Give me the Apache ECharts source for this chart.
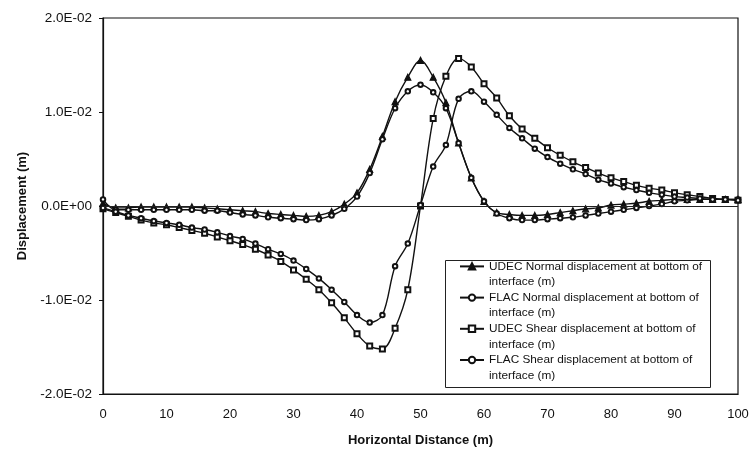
<!DOCTYPE html>
<html>
<head>
<meta charset="utf-8">
<script src="https://cdn.jsdelivr.net/npm/echarts@6/dist/echarts.min.js"></script>
<style>
html,body{margin:0;padding:0;background:#fff;}
#c{width:754px;height:452px;}
</style>
</head>
<body>
<div id="c"></div>
<script>
// Horizontal distance (m)
var distance = [0,2,4,6,8,10,12,14,16,18,20,22,24,26,28,30,32,34,36,38,40,42,44,46,48,50,
  52,54,56,58,60,62,64,66,68,70,72,74,76,78,80,82,84,86,88,90,92,94,96,98,100];

// Displacement (m)
var udecNormal = [0.0003,-0.0002,-0.0002,-0.0001,-0.0001,-0.0001,-0.0001,-0.0001,-0.0002,-0.0003,
  -0.0004,-0.0005,-0.0006,-0.0008,-0.0009,-0.0010,-0.0011,-0.0010,-0.0006,0.0002,
  0.0014,0.0039,0.0074,0.0111,0.0137,0.0155,0.0137,0.0110,0.0067,0.0030,
  0.0005,-0.0007,-0.0009,-0.0010,-0.0010,-0.0009,-0.0007,-0.0005,-0.0003,-0.0002,
  0.0001,0.0002,0.0003,0.0005,0.0006,0.0007,0.0007,0.0007,0.0007,0.0007,0.0007];

var flacNormal = [0.0007,-0.0004,-0.0004,-0.0004,-0.0004,-0.0004,-0.0004,-0.0004,-0.0005,-0.0005,
  -0.0007,-0.0009,-0.0010,-0.0012,-0.0013,-0.0014,-0.0015,-0.0014,-0.0010,-0.0003,
  0.0010,0.0035,0.0071,0.0104,0.0122,0.0129,0.0121,0.0104,0.0067,0.0030,
  0.0005,-0.0008,-0.0013,-0.0015,-0.0015,-0.0014,-0.0013,-0.0012,-0.0010,-0.0008,
  -0.0006,-0.0004,-0.0002,0.0000,0.0002,0.0005,0.0006,0.0007,0.0007,0.0007,0.0007];

var udecShear = [-0.0003,-0.0007,-0.0011,-0.0015,-0.0018,-0.0020,-0.0023,-0.0026,-0.0029,-0.0033,
  -0.0037,-0.0041,-0.0046,-0.0052,-0.0059,-0.0068,-0.0078,-0.0089,-0.0103,-0.0119,
  -0.0136,-0.0149,-0.0152,-0.0130,-0.0089,0.0000,0.0093,0.0138,0.0157,0.0148,
  0.0130,0.0115,0.0096,0.0082,0.0072,0.0062,0.0054,0.0047,0.0041,0.0035,
  0.0030,0.0026,0.0022,0.0019,0.0017,0.0014,0.0012,0.0010,0.0008,0.0007,0.0006];

var flacShear = [-0.0002,-0.0006,-0.0010,-0.0013,-0.0016,-0.0018,-0.0020,-0.0023,-0.0025,-0.0028,
  -0.0032,-0.0035,-0.0040,-0.0046,-0.0051,-0.0058,-0.0067,-0.0077,-0.0089,-0.0102,
  -0.0116,-0.0124,-0.0116,-0.0064,-0.0040,0.0001,0.0042,0.0065,0.0114,0.0122,
  0.0111,0.0097,0.0083,0.0072,0.0061,0.0052,0.0045,0.0039,0.0034,0.0028,
  0.0024,0.0020,0.0017,0.0014,0.0012,0.0010,0.0009,0.0008,0.0007,0.0007,0.0006];

var seriesNames = [
  'UDEC Normal displacement at bottom of\ninterface (m)',
  'FLAC Normal displacement at bottom of\ninterface (m)',
  'UDEC Shear displacement at bottom of\ninterface (m)',
  'FLAC Shear displacement at bottom of\ninterface (m)'
];

var yTickLabels = {'0.02':'2.0E-02','0.01':'1.0E-02','0':'0.0E+00','-0.01':'-1.0E-02','-0.02':'-2.0E-02'};

function pairs(ys){ return distance.map(function(x,i){ return [x, ys[i]]; }); }

var FONT = 'Liberation Sans, Arial, sans-serif';
var LH = 15.6;

function mkSeries(name, data, symbol, size, extra){
  var s = {
    name: name, type: 'line', data: pairs(data), smooth: 0.35,
    symbol: symbol, symbolSize: size, showSymbol: true,
    lineStyle: {color: '#111', width: 1.4},
    itemStyle: {color: '#111', borderColor: '#111', borderWidth: 1.2},
    emphasis: {disabled: true}, z: 3
  };
  if (extra) for (var k in extra) s[k] = extra[k];
  return s;
}

var chart = echarts.init(document.getElementById('c'), null, {renderer: 'canvas'});
chart.setOption({
  animation: false,
  backgroundColor: '#fff',
  grid: {left: 103, right: 16, top: 18, bottom: 55, show: true, borderColor: '#111', borderWidth: 1.2, backgroundColor: 'transparent'},
  xAxis: {
    type: 'value', min: 0, max: 100, interval: 10,
    name: 'Horizontal Distance (m)', nameLocation: 'middle', nameGap: 40,
    nameTextStyle: {fontFamily: FONT, fontWeight: 'bold', fontSize: 13, color: '#111'},
    axisLine: {onZero: false, lineStyle: {color: '#111', width: 1.2}},
    axisTick: {show: false},
    axisLabel: {fontFamily: FONT, fontSize: 13, color: '#111', margin: 14},
    splitLine: {show: false}
  },
  yAxis: {
    type: 'value', min: -0.02, max: 0.02, interval: 0.01,
    name: 'Displacement (m)', nameLocation: 'middle', nameGap: 67,
    nameTextStyle: {fontFamily: FONT, fontWeight: 'bold', fontSize: 13, color: '#111'},
    axisLine: {show: true, lineStyle: {color: '#111', width: 1.2}},
    axisTick: {show: true, length: 4, lineStyle: {color: '#111'}},
    axisLabel: {fontFamily: FONT, fontSize: 13.5, color: '#111', margin: 11,
      formatter: function(v){ var k = String(Math.round(v*100)/100); return yTickLabels[k] || ''; }},
    splitLine: {show: false}
  },
  legend: {
    orient: 'vertical', left: 459, top: 243,
    itemWidth: 24, itemHeight: 8, itemGap: -LH,
    padding: 0,
    data: seriesNames,
    formatter: function(n){ return '\u00a0\n' + n; },
    textStyle: {fontFamily: FONT, fontSize: 11.8, color: '#111', lineHeight: LH},
    selectedMode: false
  },
  graphic: [{
    type: 'rect', left: 443, top: 258, z: 10, silent: true,
    shape: {width: 265, height: 127},
    style: {fill: 'none', stroke: '#222', lineWidth: 1}
  }],
  series: [
    mkSeries(seriesNames[0], udecNormal, 'triangle', 6, {
      markLine: {silent: true, symbol: ['none','none'], label: {show: false},
        lineStyle: {color: '#222', width: 1, type: 'solid'}, data: [{yAxis: 0}]}
    }),
    mkSeries(seriesNames[1], flacNormal, 'emptyCircle', 4.5),
    mkSeries(seriesNames[2], udecShear, 'emptyRect', 5, {itemStyle: {color: '#111', borderColor: '#111', borderWidth: 1.6}}),
    mkSeries(seriesNames[3], flacShear, 'emptyCircle', 4.5)
  ]
});
</script>
</body>
</html>
